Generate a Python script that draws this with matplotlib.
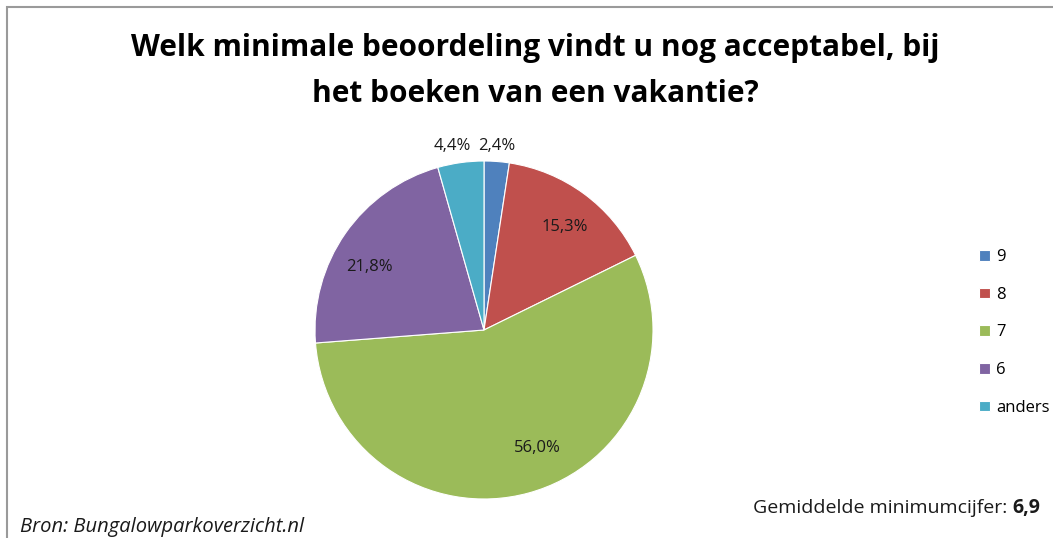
import matplotlib
matplotlib.use("Agg")
import matplotlib.pyplot as plt
from matplotlib.patches import Rectangle

# ---- data ----
categories = ["9", "8", "7", "6", "anders"]
values = [2.4, 15.3, 56.0, 21.8, 4.4]
title = "Welk minimale beoordeling vindt u nog acceptabel, bij\nhet boeken van een vakantie?"
source = "Bron: Bungalowparkoverzicht.nl"
avg_label = "Gemiddelde minimumcijfer: "
avg_value = "6,9"

colors = ["#4F81BD", "#C0504D", "#9BBB59", "#8064A2", "#4BACC6"]
# label placement (data coords of the unit pie), layout only
label_pos = [(0.077, 1.089), (0.479, 0.609), (0.314, -0.698), (-0.675, 0.373), (-0.189, 1.089)]

FONT = ["Open Sans", "DejaVu Sans"]

W, H = 1053, 538
fig = plt.figure(figsize=(W / 100, H / 100), dpi=100)
fig.patch.set_facecolor("white")

# outer frame (left/top visible, right/bottom beyond the edge)
fig.patches.append(Rectangle((7 / W, -0.05), 1.2, 1 - 7 / H + 0.05, transform=fig.transFigure,
                             fill=False, edgecolor="#9a9a9a", linewidth=1.5))

cx, cy, R = 484, 330, 169
ax = fig.add_axes([(cx - R) / W, (H - cy - R) / H, 2 * R / W, 2 * R / H])
wedges, _ = ax.pie(values, colors=colors, startangle=90, counterclock=False,
                   radius=1.0, wedgeprops=dict(edgecolor="white", linewidth=0.8))
ax.set_xlim(-1, 1)
ax.set_ylim(-1, 1)
ax.set_aspect("equal")
ax.axis("off")

for v, (x, y) in zip(values, label_pos):
    ax.text(x, y, f"{v:.1f}%".replace(".", ","), ha="center", va="center",
            fontsize=12, family=FONT, color="#1a1a1a", clip_on=False)

fig.text(535 / W, 1 - 71 / H, title, ha="center", va="center", fontsize=21.5,
         fontweight="bold", family=FONT, linespacing=1.68, color="black")

# legend
leg = fig.legend(wedges, categories, loc="center left", bbox_to_anchor=(971 / W, 1 - 332.5 / H),
                 frameon=False, prop={"family": FONT, "size": 12}, handlelength=0.62,
                 handleheight=0.62, handletextpad=0.4, labelspacing=1.3, borderpad=0)

fig.text(20 / W, 1 - 527 / H, source, ha="left", va="center", fontsize=14.5,
         style="italic", family=FONT, color="#1a1a1a")
t2 = fig.text(1040 / W, 1 - 508 / H, avg_value, ha="right", va="center", fontsize=14,
              fontweight="bold", family=FONT, color="#1a1a1a")
fig.canvas.draw()
bb = t2.get_window_extent()
fig.text(bb.x0 / W, 1 - 508 / H, avg_label, ha="right", va="center", fontsize=14,
         family=FONT, color="#1a1a1a")

fig.savefig("out.png", dpi=100, facecolor="white")
